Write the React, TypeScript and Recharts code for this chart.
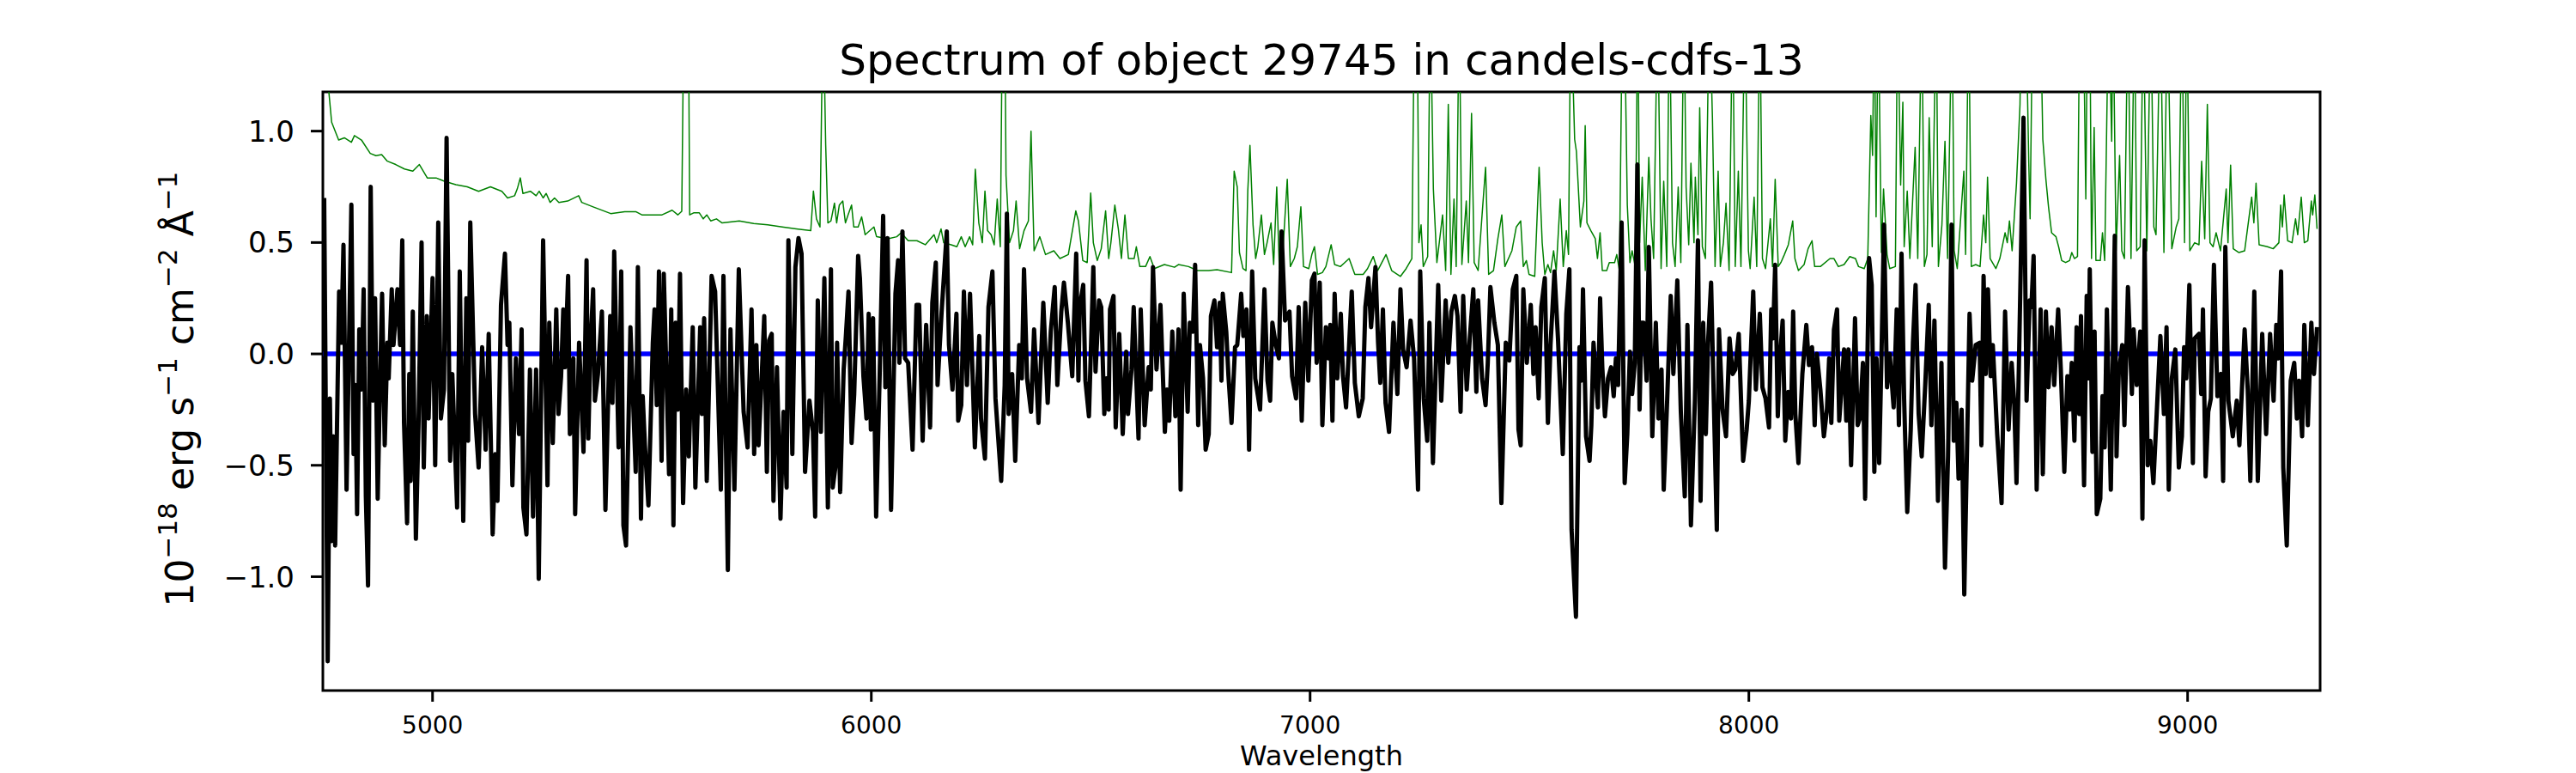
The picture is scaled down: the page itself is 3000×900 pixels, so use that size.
import React from 'react';
import { LineChart, Line, XAxis, YAxis, ReferenceArea } from 'recharts';

type Row = [number, number];

const fluxA: Row[] = [
  [4753, 0.7], [4761, -1.38], [4766, -0.2], [4770, -0.84], [4774, -0.37], [4778, -0.86], [4787, 0.28], [4792, 0.05],
  [4797, 0.49], [4804, -0.61], [4815, 0.67], [4820, -0.45], [4824, -0.14], [4828, -0.72], [4833, 0.11], [4838, -0.16],
  [4843, 0.29], [4848, -0.64], [4853, -1.04], [4859, 0.75], [4864, -0.21], [4869, 0.25], [4875, -0.65], [4880, -0.16],
  [4885, 0.27], [4891, -0.41], [4897, 0.05], [4900, -0.11], [4907, 0.29], [4911, 0.04], [4920, 0.29], [4926, 0.04],
  [4931, 0.51], [4935, -0.31], [4942, -0.76], [4947, -0.09], [4950, -0.57], [4955, 0.19], [4962, -0.83], [4968, -0.32],
  [4975, 0.5], [4980, -0.51], [4987, 0.17], [4991, -0.29], [5000, 0.34], [5006, -0.5], [5013, 0.59], [5019, -0.29],
  [5026, -0.16], [5032, 0.97], [5040, -0.48], [5045, -0.09], [5056, -0.69], [5062, 0.37], [5070, -0.75], [5077, 0.25],
  [5081, -0.39], [5086, 0.59], [5097, -0.27], [5105, -0.51], [5113, 0.03], [5121, -0.43], [5128, 0.09], [5137, -0.81],
  [5143, -0.45], [5148, -0.66], [5156, 0.22], [5165, 0.45], [5171, 0.04], [5175, 0.14], [5182, -0.59], [5190, -0.02],
  [5197, -0.36], [5203, 0.11], [5207, -0.69], [5214, -0.81], [5222, -0.07], [5229, -0.73], [5236, -0.07], [5242, -1.01],
  [5252, 0.51], [5262, -0.59], [5266, 0.14], [5274, -0.4], [5282, 0.2], [5287, -0.27], [5293, -0.1], [5298, 0.2],
  [5302, -0.06], [5309, 0.35], [5313, -0.36], [5321, -0.02], [5325, -0.72],
];
const fluxB: Row[] = [
  [5334, 0.05], [5338, -0.14], [5344, -0.44], [5351, 0.42], [5355, -0.38], [5360, 0.04], [5366, 0.29], [5370, -0.21],
  [5377, -0.09], [5386, 0.19], [5394, -0.7], [5405, 0.17], [5410, -0.22], [5414, 0.46], [5424, -0.42], [5430, 0.37],
  [5435, -0.77], [5441, -0.86], [5451, 0.12], [5463, -0.53], [5468, 0.39], [5475, -0.74], [5479, -0.19], [5484, -0.41],
  [5492, -0.68], [5502, 0.05], [5506, 0.2], [5511, -0.23], [5516, 0.37], [5522, -0.48], [5527, 0.36], [5539, -0.54],
  [5544, 0.2], [5549, -0.77], [5554, 0.14], [5559, -0.25], [5564, 0.36], [5571, -0.67], [5578, -0.16], [5584, -0.46],
  [5593, 0.12], [5599, -0.6], [5610, 0.12], [5614, -0.27], [5619, 0.16], [5625, -0.57], [5636, 0.35], [5644, 0.28],
  [5657, -0.61], [5663, 0.35], [5673, -0.97], [5679, 0.11], [5688, -0.61], [5698, 0.38], [5709, -0.26], [5718, -0.42],
  [5727, 0.2], [5733, -0.45], [5738, 0.04], [5743, -0.41], [5750, -0.11], [5756, 0.17], [5762, -0.53], [5767, 0.06],
  [5773, 0.09], [5777, -0.66], [5785, -0.06], [5793, -0.74], [5800, -0.26], [5807, -0.6], [5811, 0.51], [5820, -0.45],
  [5827, 0.39], [5834, 0.52], [5841, 0.45], [5849, -0.53], [5859, -0.21], [5867, -0.35], [5872, -0.73], [5878, 0.24],
  [5885, -0.35], [5893, 0.34],
];
const fluxC: Row[] = [
  [5901, -0.69], [5908, 0.38], [5912, -0.6], [5918, -0.51], [5922, 0.05], [5929, -0.62], [5937, -0.07], [5942, 0.08],
  [5948, 0.28], [5955, -0.4], [5961, -0.18], [5970, 0.44], [5974, 0.34], [5982, -0.1], [5989, -0.29], [5994, 0.18],
  [5999, -0.34], [6004, 0.16], [6011, -0.73], [6019, -0.1], [6027, 0.62], [6032, -0.15], [6037, 0.52], [6045, -0.7],
  [6055, 0.27], [6061, 0.42], [6064, -0.04], [6071, 0.55], [6077, -0.02], [6084, -0.04], [6094, -0.43], [6103, 0.22],
  [6109, 0.22], [6117, -0.39], [6125, 0.13], [6134, -0.33], [6139, 0.23], [6147, 0.41], [6151, -0.14], [6160, 0.18],
  [6172, 0.55], [6177, 0.04], [6185, -0.16], [6194, 0.18], [6198, -0.3], [6205, -0.23], [6211, 0.28], [6218, -0.14],
  [6225, 0.27], [6236, -0.42], [6246, 0.08], [6250, -0.29], [6259, -0.47], [6267, 0.21], [6276, 0.37], [6283, -0.2],
  [6296, -0.57], [6304, -0.14], [6309, 0.63], [6313, -0.27], [6321, -0.09], [6328, -0.48], [6337, 0.04], [6343, -0.11],
  [6348, 0.38], [6355, -0.11], [6364, -0.26], [6371, 0.11], [6381, -0.31], [6392, 0.23], [6402, -0.22], [6409, 0.1],
  [6418, 0.3], [6424, -0.14], [6433, 0.19], [6439, 0.32], [6448, 0.14], [6458, -0.1],
];
const fluxD: Row[] = [
  [6467, 0.45], [6472, -0.12], [6475, 0.21], [6483, 0.31], [6488, -0.12], [6496, -0.28], [6506, 0.39], [6511, -0.08],
  [6519, 0.24], [6524, 0.21], [6531, -0.27], [6536, -0.11], [6541, -0.25], [6544, 0.2], [6552, 0.26], [6557, -0.33],
  [6565, 0.09], [6573, -0.36], [6581, 0.01], [6585, -0.27], [6593, -0.07], [6598, 0.21], [6609, -0.38], [6614, 0.2],
  [6623, -0.32], [6632, -0.06], [6637, -0.16], [6642, 0.39], [6650, -0.07], [6659, 0.22], [6669, -0.35], [6674, -0.16],
  [6679, -0.3], [6686, 0.1], [6693, -0.28], [6700, 0.11], [6705, -0.61], [6712, 0.27], [6721, -0.26], [6726, 0.14],
  [6733, 0.1], [6738, 0.4], [6745, -0.32], [6749, 0.04], [6756, -0.11], [6762, -0.43], [6769, -0.36], [6774, 0.17],
  [6782, 0.24], [6788, 0.03], [6794, 0.23], [6798, -0.12], [6801, 0.27], [6809, 0.1], [6814, -0.1], [6821, -0.31],
  [6829, 0.03], [6834, 0.04], [6843, 0.27], [6848, 0.08], [6855, 0.2], [6861, -0.43], [6868, 0.37], [6875, -0.11],
  [6886, -0.25], [6896, 0.29], [6903, -0.12], [6909, -0.21], [6914, 0.14], [6922, 0.04], [6929, -0.02], [6935, 0.55],
  [6943, 0.15], [6953, 0.19], [6959, -0.1], [6968, -0.2], [6974, 0.21], [6981, -0.3], [6989, 0.23], [6996, -0.12],
  [7004, 0.33], [7010, 0.36], [7015, -0.04], [7022, 0.32], [7028, -0.32],
];
const fluxE: Row[] = [
  [7036, 0.12], [7042, -0.02], [7046, 0.13], [7051, -0.3], [7056, 0.27], [7062, -0.11], [7070, 0.18], [7075, -0.1],
  [7082, -0.24], [7089, 0.04], [7095, 0.28], [7102, -0.13], [7111, -0.28], [7120, -0.2], [7126, 0.21], [7133, 0.34],
  [7139, 0.12], [7149, 0.39], [7155, 0.05], [7160, -0.13], [7166, 0.2], [7172, -0.22], [7180, -0.35], [7190, 0.14],
  [7199, -0.18], [7206, 0.29], [7212, 0.02], [7220, -0.06], [7229, 0.15], [7237, -0.02], [7246, -0.61], [7251, 0.37],
  [7259, -0.2], [7267, -0.39], [7272, 0.14], [7280, -0.49], [7292, 0.31], [7299, -0.21], [7309, 0.24], [7315, -0.04],
  [7322, 0.19], [7330, 0.26], [7336, 0.17], [7343, -0.26], [7349, 0.26], [7357, -0.16], [7364, 0.07], [7372, 0.29],
  [7379, -0.17], [7383, 0.24], [7392, -0.11], [7400, -0.23], [7405, -0.04], [7411, 0.3], [7420, 0.14], [7428, 0.04],
  [7436, -0.67], [7446, 0.05], [7454, -0.03], [7462, 0.29], [7470, 0.35], [7475, -0.34], [7480, -0.41], [7486, 0.29],
  [7494, -0.04], [7503, 0.22], [7509, -0.09], [7514, 0.12], [7521, -0.2], [7527, 0.21], [7535, 0.34], [7542, -0.31],
  [7548, 0.04], [7557, 0.37], [7565, 0.07], [7576, -0.45], [7584, 0.18], [7591, 0.38], [7596, -0.79],
];
const fluxF: Row[] = [
  [7606, -1.18], [7614, 0.03], [7618, -0.12], [7622, 0.29], [7629, -0.37], [7637, -0.48], [7641, -0.32], [7646, 0.05],
  [7651, -0.09], [7656, -0.24], [7661, 0.25], [7666, -0.06], [7672, -0.28], [7679, -0.11], [7686, -0.06], [7692, -0.19],
  [7697, -0.02], [7702, -0.14], [7710, 0.59], [7717, -0.58], [7723, -0.36], [7729, 0.01], [7734, -0.18], [7740, -0.04],
  [7746, 0.85], [7751, -0.25], [7755, 0.14], [7760, 0.14], [7767, -0.12], [7772, 0.48], [7780, -0.37], [7788, 0.14],
  [7794, -0.29], [7801, -0.07], [7806, -0.61], [7814, -0.2], [7822, 0.26], [7828, -0.09], [7837, 0.33], [7845, -0.26],
  [7854, -0.64], [7860, 0.13], [7868, -0.77], [7877, -0.21], [7884, 0.51], [7890, -0.66], [7896, 0.14], [7902, -0.36],
  [7907, 0.05], [7914, 0.32], [7919, -0.11], [7927, -0.79], [7932, 0.11], [7940, -0.25], [7948, -0.37], [7956, 0.07],
  [7963, -0.09], [7969, -0.07], [7977, 0.09], [7987, -0.48], [7995, -0.34], [8000, -0.21], [8010, 0.28], [8016, -0.16],
  [8025, 0.18], [8031, -0.15], [8038, -0.2], [8046, -0.33], [8051, 0.2], [8055, 0.07], [8060, 0.4], [8066, -0.28],
  [8070, -0.05], [8077, 0.15], [8083, -0.39], [8090, -0.17], [8096, -0.29], [8101, 0.19], [8106, -0.27], [8113, -0.49],
  [8122, -0.09], [8131, 0.13], [8137, -0.05], [8144, 0.03], [8150, -0.32], [8155, 0.0], [8163, -0.16],
];
const fluxG: Row[] = [
  [8171, -0.37], [8178, -0.25], [8183, -0.02], [8188, -0.31], [8194, 0.11], [8201, 0.2], [8206, -0.3], [8211, -0.16],
  [8217, 0.02], [8222, -0.3], [8227, 0.02], [8233, -0.5], [8242, 0.16], [8248, -0.32], [8253, -0.29], [8260, -0.04],
  [8265, -0.65], [8274, 0.43], [8280, 0.31], [8286, -0.53], [8291, -0.02], [8297, -0.49], [8302, -0.04], [8308, 0.58],
  [8315, -0.15], [8321, 0.0], [8330, -0.24], [8337, 0.2], [8342, -0.32], [8348, 0.45], [8354, -0.21], [8361, -0.71],
  [8369, -0.34], [8374, 0.05], [8380, 0.31], [8387, -0.27], [8394, -0.46], [8402, -0.14], [8410, 0.22], [8416, -0.32],
  [8423, 0.15], [8431, -0.66], [8439, -0.04], [8447, -0.96], [8454, -0.46], [8462, 0.58], [8467, -0.39], [8473, -0.22],
  [8478, -0.56], [8485, -0.25], [8491, -1.08], [8503, 0.18], [8509, -0.12], [8517, 0.04], [8526, 0.05], [8530, -0.41],
  [8535, 0.35], [8540, -0.09], [8545, 0.29], [8551, -0.1], [8556, 0.04], [8566, -0.36], [8576, -0.67], [8584, 0.19],
  [8592, -0.34], [8599, -0.04], [8605, -0.23], [8610, -0.58], [8616, 0.0], [8626, 1.06], [8633, -0.21], [8640, 0.24],
  [8644, 0.21], [8649, 0.44], [8656, -0.61], [8665, 0.2], [8670, -0.54], [8677, 0.19], [8683, -0.15], [8690, 0.12],
  [8696, -0.14], [8705, 0.2], [8711, -0.07], [8719, -0.53], [8726, -0.1], [8731, -0.25],
];
const fluxH: Row[] = [
  [8736, -0.04], [8742, -0.39], [8747, 0.12], [8753, -0.27], [8757, 0.17], [8764, -0.59], [8770, 0.26], [8774, -0.11],
  [8777, 0.38], [8783, -0.44], [8788, 0.1], [8793, -0.72], [8801, -0.65], [8806, -0.19], [8811, -0.42], [8816, 0.2],
  [8825, -0.61], [8834, 0.53], [8838, -0.46], [8843, -0.09], [8851, 0.04], [8856, -0.32], [8864, 0.3], [8873, -0.18],
  [8877, 0.11], [8884, -0.14], [8892, 0.1], [8897, -0.74], [8902, 0.51], [8909, -0.5], [8915, -0.39], [8922, -0.58],
  [8930, -0.25], [8938, 0.08], [8946, -0.27], [8952, 0.12], [8957, -0.61], [8964, -0.11], [8972, 0.02], [8980, -0.51],
  [8987, -0.37], [8992, 0.03], [8997, -0.11], [9004, 0.31], [9012, -0.49], [9016, 0.07], [9026, 0.09], [9031, -0.18],
  [9035, 0.2], [9041, -0.55], [9047, -0.26], [9053, -0.2], [9060, 0.4], [9068, -0.19], [9076, -0.09], [9081, -0.57],
  [9086, 0.48], [9093, -0.21], [9103, -0.37], [9112, -0.21], [9118, -0.41], [9130, 0.11], [9137, -0.16], [9143, -0.57],
  [9152, 0.28], [9160, -0.57], [9170, 0.09], [9179, -0.36], [9188, 0.09], [9196, -0.21], [9202, 0.13], [9207, -0.02],
  [9213, 0.37], [9218, -0.51], [9226, -0.86], [9235, -0.12], [9243, -0.04], [9249, -0.29], [9254, -0.12], [9261, -0.37],
  [9266, 0.13], [9274, -0.32], [9282, 0.14], [9288, -0.09], [9295, 0.12],
];

// sky spectrum (green); values above the top of the axes are clipped
const skyA: Row[] = [
  [4751, 1.5], [4763, 1.19], [4770, 1.04], [4786, 0.96], [4799, 0.97], [4815, 0.95], [4822, 0.98], [4838, 0.96],
  [4858, 0.9], [4871, 0.89], [4884, 0.895], [4897, 0.865], [4916, 0.85], [4936, 0.83], [4955, 0.82], [4970, 0.85],
  [4988, 0.79], [5008, 0.79], [5027, 0.775], [5053, 0.76], [5079, 0.75], [5105, 0.73], [5132, 0.75], [5158, 0.73],
  [5171, 0.7], [5187, 0.71], [5193, 0.74], [5200, 0.79], [5206, 0.72], [5223, 0.73], [5236, 0.71], [5243, 0.73],
  [5252, 0.7], [5259, 0.72], [5268, 0.68], [5278, 0.7], [5288, 0.68], [5308, 0.686],
];
const skyB: Row[] = [
  [5333, 0.71], [5340, 0.68], [5366, 0.66], [5406, 0.63], [5438, 0.638], [5464, 0.638], [5477, 0.624], [5503, 0.624],
  [5523, 0.624], [5546, 0.645], [5559, 0.624], [5568, 0.64], [5573, 1.6], [5583, 1.6], [5586, 0.624], [5595, 0.633],
  [5608, 0.633], [5617, 0.606], [5625, 0.624], [5634, 0.597], [5647, 0.606], [5660, 0.588], [5699, 0.597], [5732, 0.585],
  [5764, 0.579], [5797, 0.57], [5829, 0.561], [5862, 0.553], [5868, 0.731], [5875, 0.606], [5883, 0.57],
];
const skyC: Row[] = [
  [5890, 1.6], [5896, 0.94], [5901, 0.588], [5908, 0.597], [5916, 0.677], [5921, 0.588], [5927, 0.668], [5935, 0.686],
  [5941, 0.588], [5947, 0.624], [5955, 0.668], [5960, 0.57], [5970, 0.57], [5978, 0.615], [5986, 0.535], [6006, 0.57],
  [6012, 0.526], [6038, 0.517], [6058, 0.526], [6068, 0.544], [6084, 0.508], [6104, 0.508], [6123, 0.49], [6143, 0.535],
  [6149, 0.499], [6159, 0.561], [6165, 0.499], [6182, 0.49], [6195, 0.481], [6205, 0.526], [6214, 0.481], [6224, 0.526],
  [6231, 0.49], [6237, 0.829], [6245, 0.588], [6253, 0.499], [6259, 0.731], [6265, 0.553], [6273, 0.535], [6280, 0.49],
  [6287, 0.695], [6294, 0.481], [6299, 1.6], [6304, 1.6], [6307, 0.802], [6315, 0.499], [6324, 0.553], [6330, 0.686],
  [6338, 0.472], [6348, 0.553], [6358, 0.597], [6364, 1.0], [6371, 0.463], [6384, 0.526], [6397, 0.446], [6416, 0.463],
  [6430, 0.428], [6449, 0.446],
];
const skyD: Row[] = [
  [6466, 0.642], [6472, 0.597], [6482, 0.419], [6492, 0.41], [6500, 0.722], [6506, 0.499], [6515, 0.419], [6524, 0.472],
  [6534, 0.642], [6541, 0.428], [6546, 0.499], [6555, 0.668], [6563, 0.561], [6570, 0.428], [6578, 0.624], [6586, 0.428],
  [6599, 0.428], [6604, 0.481], [6612, 0.392], [6625, 0.392], [6635, 0.437], [6645, 0.383], [6668, 0.401], [6691, 0.389],
  [6700, 0.401], [6723, 0.392], [6743, 0.374], [6769, 0.374], [6788, 0.378], [6821, 0.365], [6827, 0.82], [6834, 0.749],
  [6839, 0.455], [6847, 0.383], [6854, 0.374], [6858, 0.731], [6863, 0.936], [6870, 0.579], [6876, 0.428], [6881, 0.481],
  [6889, 0.624], [6896, 0.446], [6902, 0.499], [6911, 0.588], [6917, 0.401], [6924, 0.749], [6930, 0.383], [6937, 0.428],
  [6948, 0.784], [6955, 0.392], [6964, 0.428], [6971, 0.481], [6979, 0.66], [6985, 0.392], [6997, 0.383], [7004, 0.446],
  [7010, 0.481], [7017, 0.357], [7028, 0.365],
];
const skyE: Row[] = [
  [7036, 0.392], [7048, 0.49], [7056, 0.401], [7069, 0.392], [7079, 0.41], [7089, 0.428], [7102, 0.357], [7121, 0.357],
  [7131, 0.383], [7144, 0.437], [7154, 0.374], [7173, 0.446], [7186, 0.374], [7206, 0.348], [7219, 0.383], [7232, 0.428],
  [7238, 1.6], [7244, 1.6], [7248, 0.499], [7253, 0.579], [7258, 0.392], [7268, 0.437], [7274, 1.6], [7281, 0.74],
  [7289, 0.41], [7295, 0.508], [7302, 0.624], [7309, 0.374], [7315, 1.12], [7321, 0.357], [7328, 0.695], [7333, 0.392],
  [7340, 1.6], [7346, 0.401], [7356, 0.686], [7361, 0.41], [7368, 1.08], [7374, 0.41], [7383, 0.374], [7392, 0.624],
  [7400, 0.838], [7407, 0.357], [7418, 0.374], [7428, 0.517], [7437, 0.624], [7444, 0.392], [7460, 0.463], [7470, 0.57],
  [7480, 0.597], [7486, 0.392], [7493, 0.419], [7499, 0.357], [7512, 0.348], [7522, 0.838], [7529, 0.499], [7535, 0.357],
  [7542, 0.401], [7548, 0.365], [7555, 0.463], [7561, 0.374], [7570, 0.695], [7577, 0.392], [7584, 0.553], [7589, 0.446],
  [7594, 1.6],
];
const skyF: Row[] = [
  [7603, 0.963], [7607, 0.909], [7616, 0.57], [7624, 0.686], [7627, 1.025], [7631, 0.588], [7640, 0.553], [7650, 0.517],
  [7655, 0.428], [7661, 0.544], [7666, 0.374], [7676, 0.374], [7682, 0.41], [7694, 0.41], [7699, 0.446], [7705, 0.374],
  [7712, 1.6], [7716, 1.6], [7723, 0.668], [7729, 0.41], [7734, 0.463], [7741, 0.392], [7747, 1.6], [7751, 0.499],
  [7757, 0.793], [7764, 0.374], [7772, 0.882], [7777, 0.606], [7783, 0.428], [7792, 1.6], [7800, 0.383], [7806, 0.775],
  [7813, 0.392], [7819, 1.6], [7826, 0.499], [7832, 0.392], [7839, 0.749], [7845, 0.41], [7852, 1.6], [7857, 0.749],
  [7863, 0.49], [7868, 0.856], [7875, 0.499], [7878, 0.793], [7884, 0.535], [7888, 1.105], [7894, 0.481], [7901, 0.428],
  [7910, 1.6], [7917, 1.06], [7923, 0.392], [7930, 0.82], [7935, 0.392], [7942, 0.499], [7948, 0.677], [7955, 0.374],
  [7963, 1.6], [7969, 0.392], [7976, 0.82], [7982, 0.392], [7991, 1.6], [7999, 0.463], [8003, 0.383], [8012, 0.704],
  [8018, 0.392], [8025, 1.6], [8031, 0.428], [8038, 0.383], [8049, 0.606], [8054, 0.392], [8060, 0.784], [8067, 0.392],
  [8073, 0.41], [8081, 0.446], [8090, 0.49], [8100, 0.597], [8105, 0.428], [8113, 0.374], [8126, 0.401], [8135, 0.472],
  [8144, 0.508], [8150, 0.392], [8163, 0.392],
];
const skyG: Row[] = [
  [8185, 0.428], [8194, 0.428], [8204, 0.392], [8217, 0.401], [8230, 0.437], [8243, 0.428], [8250, 0.392], [8263, 0.383],
  [8271, 0.428], [8278, 1.07], [8282, 0.891], [8286, 1.6], [8290, 0.615], [8295, 1.6], [8302, 0.455], [8307, 0.74],
  [8315, 0.446], [8321, 0.383], [8334, 0.392], [8339, 1.6], [8346, 0.758], [8351, 1.13], [8354, 0.481], [8361, 0.731],
  [8367, 0.428], [8379, 0.927], [8385, 0.428], [8394, 1.6], [8400, 0.392], [8406, 0.446], [8411, 1.06], [8418, 0.481],
  [8427, 1.6], [8432, 0.392], [8440, 0.579], [8447, 0.954], [8453, 0.428], [8463, 1.6], [8468, 0.463], [8475, 0.383],
  [8490, 0.82], [8494, 0.446], [8501, 1.6], [8507, 0.392], [8517, 0.401], [8527, 0.392], [8535, 0.624], [8540, 0.499],
  [8544, 0.793], [8550, 0.428], [8563, 0.383], [8572, 0.428], [8584, 0.544], [8589, 0.499], [8594, 0.597], [8600, 0.463],
  [8610, 0.766], [8618, 1.12], [8621, 1.6], [8631, 1.6], [8638, 0.856], [8641, 0.606], [8647, 1.6], [8654, 1.6],
  [8664, 1.6], [8670, 0.963], [8677, 0.784], [8683, 0.66], [8690, 0.544], [8700, 0.526], [8706, 0.481], [8713, 0.419],
  [8722, 0.41], [8731, 0.419],
];
const skyH: Row[] = [
  [8736, 0.455], [8742, 0.428], [8749, 0.437], [8754, 1.6], [8762, 1.6], [8768, 0.695], [8772, 1.6], [8777, 1.6],
  [8781, 0.428], [8787, 1.016], [8791, 0.419], [8801, 0.419], [8806, 0.544], [8811, 0.419], [8820, 1.6], [8827, 0.954],
  [8830, 1.6], [8837, 0.463], [8845, 0.891], [8850, 0.463], [8856, 0.428], [8864, 1.6], [8871, 0.428], [8879, 1.6],
  [8884, 0.463], [8892, 0.481], [8899, 1.6], [8907, 0.463], [8916, 1.6], [8923, 0.57], [8928, 0.535], [8938, 1.6],
  [8946, 0.455], [8954, 1.6], [8964, 0.472], [8974, 0.57], [8980, 0.606], [8987, 1.6], [8993, 0.499], [8998, 1.6],
  [9005, 0.463], [9016, 0.499], [9026, 0.49], [9032, 0.865], [9039, 0.517], [9045, 1.12], [9051, 0.499], [9058, 0.481],
  [9065, 0.544], [9075, 0.463], [9088, 0.74], [9092, 0.499], [9098, 0.847], [9104, 0.472], [9117, 0.455], [9130, 0.463],
  [9146, 0.704], [9151, 0.588], [9156, 0.766], [9163, 0.49], [9182, 0.481], [9195, 0.472], [9208, 0.499], [9212, 0.668],
  [9216, 0.57], [9220, 0.713], [9228, 0.508], [9238, 0.499], [9246, 0.606], [9251, 0.535], [9259, 0.704], [9266, 0.499],
  [9274, 0.508], [9282, 0.686], [9285, 0.624], [9290, 0.713], [9295, 0.561],
];

// model (blue) is flat at zero
const modelFlux: Row[] = [[4750, 0], [9302, 0]];

const xTicks = [5000, 6000, 7000, 8000, 9000];
const yTicks = [-1, -0.5, 0, 0.5, 1];
const xRange: [number, number] = [4750, 9302];
const yRange: [number, number] = [-1.511, 1.176];

const toPoints = (parts: Row[][]) => parts.flat().map(([w, f]) => ({ w, f }));

const fluxData = toPoints([fluxA, fluxB, fluxC, fluxD, fluxE, fluxF, fluxG, fluxH]);
const skyData = toPoints([skyA, skyB, skyC, skyD, skyE, skyF, skyG, skyH]);
const modelData = toPoints([modelFlux]);

const FONT = '"DejaVu Sans", Verdana, sans-serif';
const fmtY = (v: number) => v.toFixed(1).replace('-', '\u2212');

const App = () => {
  return (
    <div style={{ position: 'absolute', left: 0, top: 0, width: 3000, height: 900, background: '#fff', fontFamily: FONT }}>
      <LineChart width={3000} height={900} margin={{ top: 107, right: 298, bottom: 0, left: 0 }}>
        <XAxis
          type="number"
          dataKey="w"
          domain={xRange}
          allowDataOverflow
          ticks={xTicks}
          height={96}
          axisLine={false}
          tickLine={{ stroke: '#000', strokeWidth: 3 }}
          tickSize={13}
          tickMargin={17}
          tick={{ fontSize: 28, fill: '#000', fontFamily: FONT }}
        />
        <YAxis
          type="number"
          domain={yRange}
          allowDataOverflow
          ticks={yTicks}
          width={376}
          axisLine={false}
          tickLine={{ stroke: '#000', strokeWidth: 3 }}
          tickSize={14}
          tickMargin={19}
          tickFormatter={fmtY}
          tick={{ fontSize: 34, fill: '#000', fontFamily: FONT }}
        />
        <Line data={modelData} dataKey="f" stroke="#0000ff" strokeWidth={5.5} dot={false} activeDot={false} isAnimationActive={false} />
        <Line data={skyData} dataKey="f" stroke="#008000" strokeWidth={1.5} strokeLinejoin="round" dot={false} activeDot={false} isAnimationActive={false} />
        <Line data={fluxData} dataKey="f" stroke="#000000" strokeWidth={5} strokeLinejoin="round" dot={false} activeDot={false} isAnimationActive={false} />
        <ReferenceArea x1={xRange[0]} x2={xRange[1]} y1={yRange[0]} y2={yRange[1]} fill="none" stroke="#000" strokeWidth={3} />
      </LineChart>
      <svg width={3000} height={900} style={{ position: 'absolute', left: 0, top: 0, pointerEvents: 'none' }}>
        <text x={1539} y={87} textAnchor="middle" fontSize={50} fontFamily={FONT} fill="#000">
          Spectrum of object 29745 in candels-cdfs-13
        </text>
        <text x={1539} y={891} textAnchor="middle" fontSize={32} fontFamily={FONT} fill="#000">
          Wavelength
        </text>
        <text x={225} y={453} transform="rotate(-90 225 453)" textAnchor="middle" fontSize={44} fontFamily={FONT} fill="#000">
          10
          <tspan dy={-19} fontSize={31}>{'\u221218'}</tspan>
          <tspan dy={19}>{' erg s'}</tspan>
          <tspan dy={-19} fontSize={31}>{'\u22121'}</tspan>
          <tspan dy={19}>{' cm'}</tspan>
          <tspan dy={-19} fontSize={31}>{'\u22122'}</tspan>
          <tspan dy={19}>{' \u00c5'}</tspan>
          <tspan dy={-19} fontSize={31}>{'\u22121'}</tspan>
        </text>
      </svg>
    </div>
  );
};

export default App;
